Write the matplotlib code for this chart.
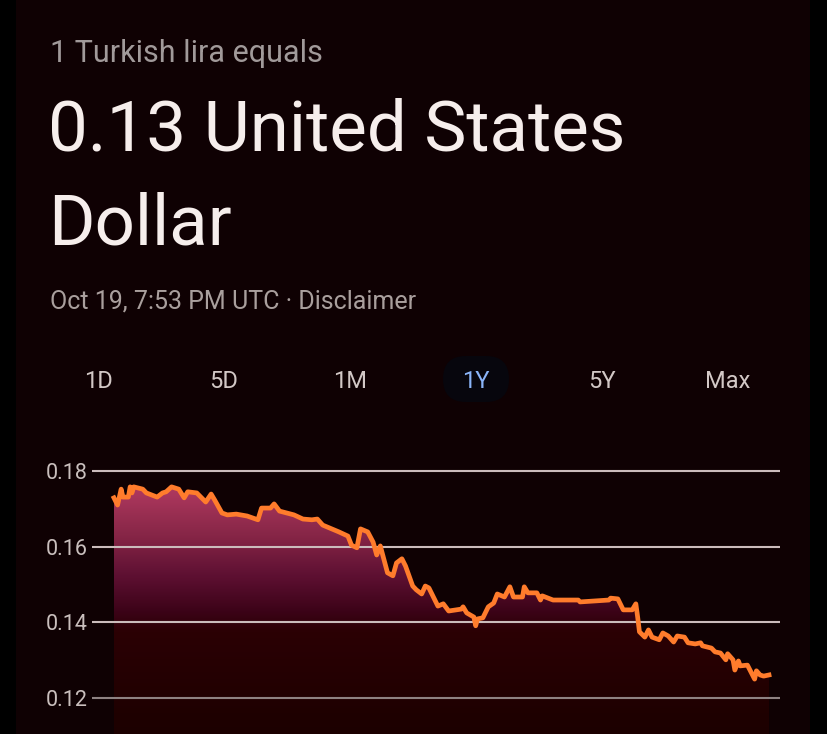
import numpy as np
import matplotlib.pyplot as plt
from matplotlib.patches import FancyBboxPatch
from matplotlib.colors import LinearSegmentedColormap

plt.rcParams['font.family'] = ['Roboto', 'DejaVu Sans']

# 数据：1年 TRY/USD 汇率
days = [0, 2, 4, 5, 8, 9, 10, 11, 16, 18, 24, 27, 29, 32, 36, 39, 41, 46, 51, 54,
        56, 60, 63, 68, 74, 80, 82, 87, 89, 92, 100, 105, 110, 113, 116, 120, 125,
        130, 132, 135, 137, 141, 144, 146, 148, 152, 155, 157, 160, 162, 166, 168,
        171, 173, 175, 180, 183, 186, 193, 194, 196, 200, 201, 202, 205, 208, 211,
        213, 217, 220, 222, 227, 228, 230, 235, 237, 238, 244, 258, 259, 275, 276,
        280, 283, 288, 290, 291, 292, 295, 297, 299, 303, 305, 308, 311, 313, 317,
        319, 323, 326, 327, 332, 334, 337, 340, 341, 344, 345, 347, 348, 352, 356,
        357, 359, 361, 364]
rate = [0.1729, 0.1710, 0.1752, 0.1731, 0.1731, 0.1758, 0.1742, 0.1758, 0.1752,
        0.1742, 0.1731, 0.1742, 0.1745, 0.1758, 0.1752, 0.1729, 0.1745, 0.1742,
        0.1718, 0.1739, 0.1723, 0.1689, 0.1684, 0.1686, 0.1681, 0.1671, 0.1702,
        0.1702, 0.1713, 0.1694, 0.1684, 0.1673, 0.1671, 0.1673, 0.1657, 0.1649,
        0.1639, 0.1628, 0.1604, 0.1597, 0.1647, 0.1639, 0.1612, 0.1578, 0.1602,
        0.1531, 0.1523, 0.1557, 0.1568, 0.1549, 0.1496, 0.1486, 0.1475, 0.1496,
        0.1491, 0.1443, 0.1449, 0.1430, 0.1435, 0.1441, 0.1425, 0.1414, 0.1391,
        0.1409, 0.1412, 0.1441, 0.1451, 0.1475, 0.1467, 0.1494, 0.1467, 0.1467,
        0.1494, 0.1478, 0.1478, 0.1459, 0.1470, 0.1459, 0.1459, 0.1454, 0.1459,
        0.1464, 0.1462, 0.1433, 0.1433, 0.1449, 0.1414, 0.1375, 0.1361, 0.1380,
        0.1361, 0.1354, 0.1372, 0.1364, 0.1348, 0.1364, 0.1361, 0.1346, 0.1343,
        0.1346, 0.1338, 0.1332, 0.1322, 0.1319, 0.1301, 0.1317, 0.1301, 0.1274,
        0.1298, 0.1285, 0.1287, 0.1250, 0.1272, 0.1261, 0.1258, 0.1261]
yticks = [0.12, 0.14, 0.16, 0.18]
periods = ['1D', '5D', '1M', '1Y', '5Y', 'Max']
active = '1Y'

W, H = 828, 734
card = '#0f0103'
fig = plt.figure(figsize=(W / 100, H / 100), dpi=100, facecolor='black')

# 卡片背景
bg = fig.add_axes([0, 0, 1, 1])
bg.set_xlim(0, W)
bg.set_ylim(H, 0)
bg.axis('off')
bg.add_patch(FancyBboxPatch((16, -40), 794, H + 80,
                            boxstyle='round,pad=0,rounding_size=28',
                            fc=card, ec='none'))
# 1Y 按钮背景
bg.add_patch(FancyBboxPatch((443, 356), 66, 46,
                            boxstyle='round,pad=0,rounding_size=23',
                            fc='#07060d', ec='none'))

bg.text(50, 54, '1 Turkish lira equals', fontsize=22, color='#a19a9a', va='center')
bg.text(48, 131, '0.13 United States', fontsize=51, color='#f6eeec', va='center')
bg.text(48, 225, 'Dollar', fontsize=51, color='#f6eeec', va='center')
bg.text(50, 302, 'Oct 19, 7:53 PM UTC \u00b7 Disclaimer', fontsize=18,
        color='#a99f9d', va='center')
for i, p in enumerate(periods):
    bg.text(98 + i * 126, 381, p, fontsize=17, ha='center', va='center',
            color='#8ab4f8' if p == active else '#d2c8c6')

# 折线图
ax = fig.add_axes([92 / W, 0, (780 - 92) / W, (H - 460) / H])
ax.set_facecolor(card)
ax.patch.set_alpha(0)
ax.set_xlim(-12.2, 370.1)
ax.set_ylim(0.1105, 0.1829)
for s in ax.spines.values():
    s.set_visible(False)
ax.set_xticks([])
ax.set_yticks(yticks)
ax.set_yticklabels(['%.2f' % t for t in yticks])
ax.tick_params(axis='y', length=0, pad=3, labelsize=15.5, labelcolor='#c9bfbd')

# 渐变填充
cmap = LinearSegmentedColormap.from_list('fill', [
    (0.0, '#1c0000'), (0.40, '#2b0004'), (0.48, '#3c0318'),
    (0.62, '#5e1032'), (0.78, '#872647'), (1.0, '#b83d64')])
grad = np.linspace(0, 1, 256).reshape(-1, 1)
im = ax.imshow(grad, cmap=cmap, aspect='auto', origin='lower',
               extent=[0, max(days), 0.1105, 0.178], zorder=1)
poly = ax.fill_between(days, rate, 0.1105, color='none', lw=0)
im.set_clip_path(poly.get_paths()[0], transform=ax.transData)

for t in yticks:
    ax.axhline(t, color='#cbbcbc' if t > 0.12 else '#8e8282', lw=1.5, zorder=2)
ax.plot(days, rate, color='#ff7c2c', lw=3.4, solid_joinstyle='round', zorder=3)

plt.savefig('out.png', dpi=100, facecolor='black')
